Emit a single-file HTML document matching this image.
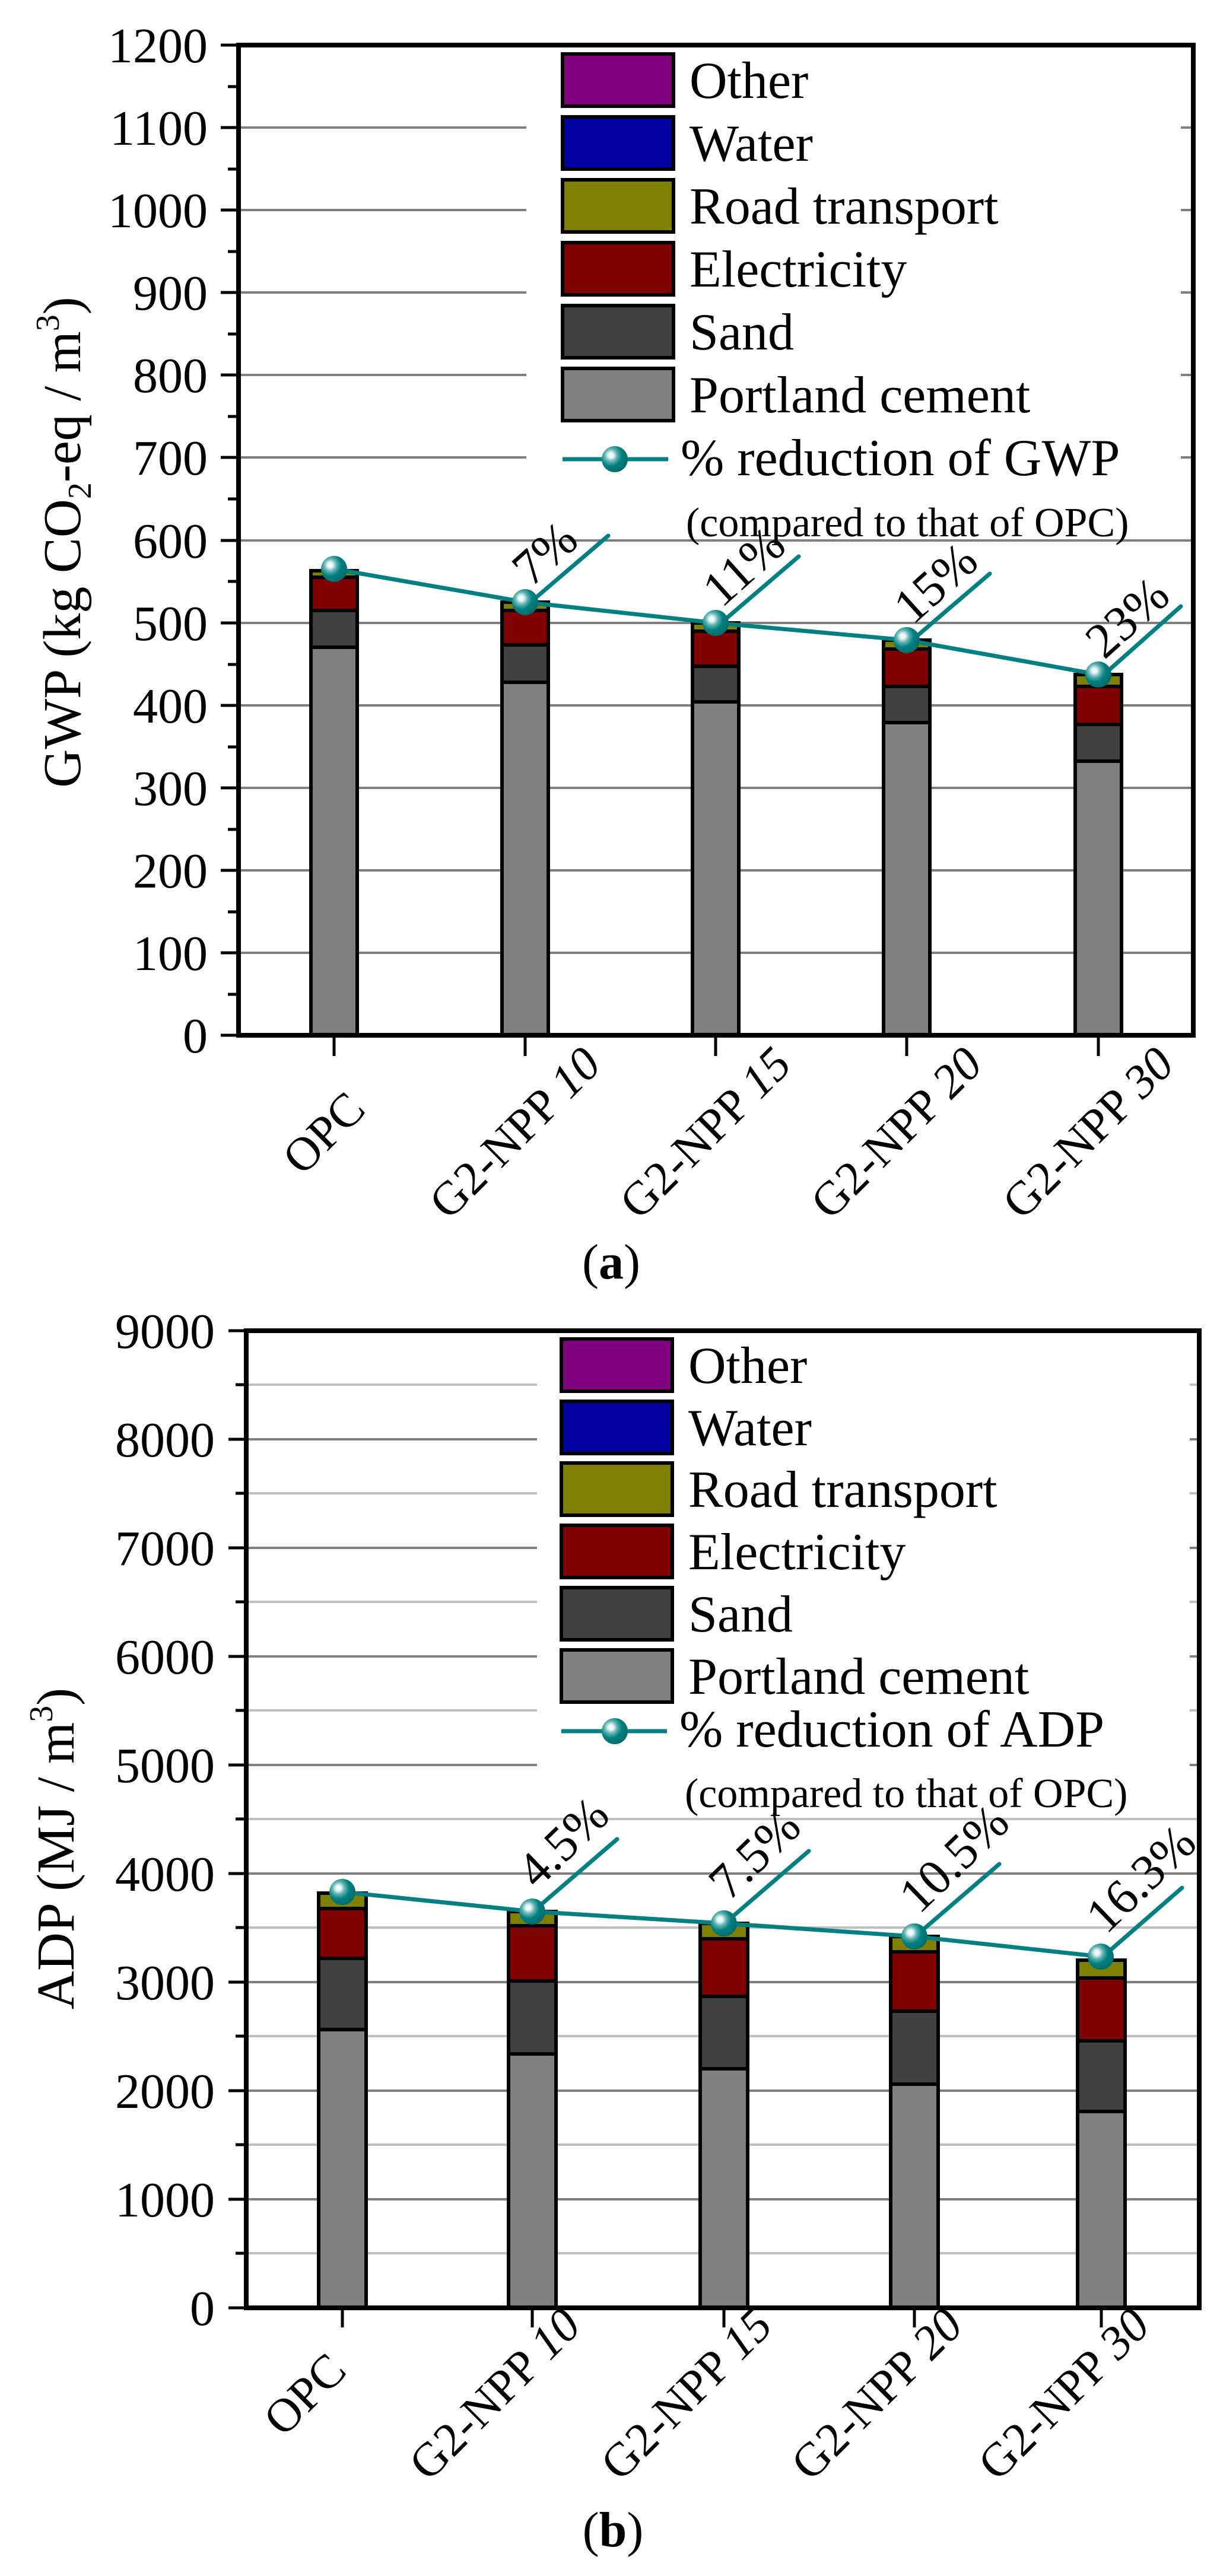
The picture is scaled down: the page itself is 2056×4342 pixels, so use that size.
<!DOCTYPE html>
<html><head><meta charset="utf-8"><style>
html,body{margin:0;padding:0;background:#fff}
svg{display:block}
text{font-family:"Liberation Serif",serif;fill:#000}
</style></head><body>
<svg width="2056" height="4342" viewBox="0 0 2056 4342" xmlns="http://www.w3.org/2000/svg">
<defs>
<radialGradient id="mk" cx="0.35" cy="0.35" r="0.7">
<stop offset="0" stop-color="#ffffff"/><stop offset="0.15" stop-color="#e0f4f4"/><stop offset="0.35" stop-color="#5fb0b0"/><stop offset="0.6" stop-color="#008080"/><stop offset="1" stop-color="#006a6a"/>
</radialGradient>
</defs>

<!-- ================= CHART A ================= -->
<g stroke="#808080" stroke-width="4">
<line x1="402" x2="2011" y1="1606" y2="1606"/><line x1="402" x2="2011" y1="1467" y2="1467"/>
<line x1="402" x2="2011" y1="1328" y2="1328"/><line x1="402" x2="2011" y1="1189" y2="1189"/>
<line x1="402" x2="2011" y1="1050" y2="1050"/><line x1="402" x2="2011" y1="911" y2="911"/>
<line x1="402" x2="2011" y1="771" y2="771"/><line x1="402" x2="2011" y1="632" y2="632"/>
<line x1="402" x2="2011" y1="493" y2="493"/><line x1="402" x2="2011" y1="354" y2="354"/>
<line x1="402" x2="2011" y1="215" y2="215"/>
</g>
<rect x="887" y="80" width="1103" height="823" fill="#fff"/>

<g stroke="#000" stroke-width="6">
<rect x="524" y="1091" width="78" height="654" fill="#808080"/>
<rect x="524" y="1029" width="78" height="62" fill="#404040"/>
<rect x="524" y="973" width="78" height="56" fill="#800000"/>
<rect x="524" y="962" width="78" height="11" fill="#808000"/>

<rect x="846" y="1150" width="78" height="595" fill="#808080"/>
<rect x="846" y="1087" width="78" height="63" fill="#404040"/>
<rect x="846" y="1029" width="78" height="58" fill="#800000"/>
<rect x="846" y="1015" width="78" height="14" fill="#808000"/>

<rect x="1167" y="1183" width="78" height="562" fill="#808080"/>
<rect x="1167" y="1123" width="78" height="60" fill="#404040"/>
<rect x="1167" y="1064" width="78" height="59" fill="#800000"/>
<rect x="1167" y="1050" width="78" height="14" fill="#808000"/>

<rect x="1489" y="1218" width="78" height="527" fill="#808080"/>
<rect x="1489" y="1157" width="78" height="61" fill="#404040"/>
<rect x="1489" y="1094" width="78" height="63" fill="#800000"/>
<rect x="1489" y="1079" width="78" height="15" fill="#808000"/>

<rect x="1812" y="1283" width="78" height="462" fill="#808080"/>
<rect x="1812" y="1221" width="78" height="62" fill="#404040"/>
<rect x="1812" y="1157" width="78" height="64" fill="#800000"/>
<rect x="1812" y="1137" width="78" height="20" fill="#808000"/>
</g>

<g stroke="#008080" stroke-width="7" fill="none" stroke-linecap="round">
<polyline points="563,959 885,1015 1206,1050 1528,1079 1851,1137"/>
<line x1="900" y1="1010" x2="1025" y2="903"/>
<line x1="1221" y1="1045" x2="1346" y2="938"/>
<line x1="1543" y1="1074" x2="1668" y2="967"/>
<line x1="1866" y1="1132" x2="1990" y2="1022"/>
</g>
<g fill="url(#mk)">
<circle cx="563" cy="959" r="22"/><circle cx="885" cy="1015" r="22"/><circle cx="1206" cy="1050" r="22"/><circle cx="1528" cy="1079" r="22"/><circle cx="1851" cy="1137" r="22"/>
</g>
<g font-size="84">
<text transform="translate(895,991) rotate(-42)">7%</text>
<text transform="translate(1216,1026) rotate(-42)">11%</text>
<text transform="translate(1538,1055) rotate(-42)">15%</text>
<text transform="translate(1861,1113) rotate(-42)">23%</text>
</g>

<g stroke="#000" stroke-width="8" fill="none">
<rect x="402" y="76" width="1609" height="1669"/>
</g>
<g stroke="#000" stroke-width="5">
<line x1="372" x2="402" y1="1745" y2="1745"/><line x1="372" x2="402" y1="1606" y2="1606"/><line x1="372" x2="402" y1="1467" y2="1467"/>
<line x1="372" x2="402" y1="1328" y2="1328"/><line x1="372" x2="402" y1="1189" y2="1189"/><line x1="372" x2="402" y1="1050" y2="1050"/>
<line x1="372" x2="402" y1="911" y2="911"/><line x1="372" x2="402" y1="771" y2="771"/><line x1="372" x2="402" y1="632" y2="632"/>
<line x1="372" x2="402" y1="493" y2="493"/><line x1="372" x2="402" y1="354" y2="354"/><line x1="372" x2="402" y1="215" y2="215"/>
<line x1="372" x2="402" y1="76" y2="76"/>
<line x1="384" x2="402" y1="1676" y2="1676"/><line x1="384" x2="402" y1="1537" y2="1537"/><line x1="384" x2="402" y1="1398" y2="1398"/>
<line x1="384" x2="402" y1="1259" y2="1259"/><line x1="384" x2="402" y1="1120" y2="1120"/><line x1="384" x2="402" y1="980" y2="980"/>
<line x1="384" x2="402" y1="841" y2="841"/><line x1="384" x2="402" y1="702" y2="702"/><line x1="384" x2="402" y1="563" y2="563"/>
<line x1="384" x2="402" y1="424" y2="424"/><line x1="384" x2="402" y1="285" y2="285"/><line x1="384" x2="402" y1="146" y2="146"/>
<line x1="563" x2="563" y1="1745" y2="1780"/><line x1="885" x2="885" y1="1745" y2="1780"/><line x1="1206" x2="1206" y1="1745" y2="1780"/>
<line x1="1528" x2="1528" y1="1745" y2="1780"/><line x1="1851" x2="1851" y1="1745" y2="1780"/>
</g>
<g font-size="84" text-anchor="end">
<text x="350" y="1774">0</text><text x="350" y="1635">100</text><text x="350" y="1496">200</text><text x="350" y="1357">300</text>
<text x="350" y="1218">400</text><text x="350" y="1079">500</text><text x="350" y="940">600</text><text x="350" y="800">700</text>
<text x="350" y="661">800</text><text x="350" y="522">900</text><text x="350" y="383">1000</text><text x="350" y="244">1100</text>
<text x="350" y="105">1200</text>
</g>
<text transform="translate(135,914) rotate(-90)" font-size="90" text-anchor="middle">GWP (kg CO<tspan font-size="56" dy="18">2</tspan><tspan dy="-18">-eq / m</tspan><tspan font-size="56" dy="-36">3</tspan><tspan dy="36">)</tspan></text>
<g font-size="80" text-anchor="middle" dominant-baseline="central">
<text transform="translate(546,1910) rotate(-45)">OPC</text>
<text transform="translate(868,1910) rotate(-45)">G2-NPP <tspan font-style="italic">10</tspan></text>
<text transform="translate(1189,1910) rotate(-45)">G2-NPP <tspan font-style="italic">15</tspan></text>
<text transform="translate(1511,1910) rotate(-45)">G2-NPP <tspan font-style="italic">20</tspan></text>
<text transform="translate(1834,1910) rotate(-45)">G2-NPP <tspan font-style="italic">30</tspan></text>
</g>

<g stroke="#000" stroke-width="6">
<rect x="948" y="91" width="187" height="88" fill="#800080"/>
<rect x="948" y="197" width="187" height="88" fill="#0000a0"/>
<rect x="948" y="303" width="187" height="88" fill="#808000"/>
<rect x="948" y="409" width="187" height="88" fill="#800000"/>
<rect x="948" y="515" width="187" height="88" fill="#404040"/>
<rect x="948" y="621" width="187" height="88" fill="#808080"/>
</g>
<line x1="948" x2="1126" y1="774" y2="774" stroke="#008080" stroke-width="7"/>
<circle cx="1036" cy="774" r="22" fill="url(#mk)"/>
<g font-size="88">
<text x="1162" y="165">Other</text>
<text x="1162" y="271">Water</text>
<text x="1162" y="377">Road transport</text>
<text x="1162" y="483">Electricity</text>
<text x="1162" y="589">Sand</text>
<text x="1162" y="695">Portland cement</text>
<text x="1147" y="801">% reduction of GWP</text>
</g>
<text x="1156" y="904" font-size="70">(compared to that of OPC)</text>
<text x="1030" y="2155" font-size="84" text-anchor="middle">(<tspan font-weight="bold">a</tspan>)</text>

<!-- ================= CHART B ================= -->
<g stroke="#c0c0c0" stroke-width="4">
<line x1="415" x2="2021" y1="3798" y2="3798"/><line x1="415" x2="2021" y1="3615" y2="3615"/>
<line x1="415" x2="2021" y1="3432" y2="3432"/><line x1="415" x2="2021" y1="3249" y2="3249"/>
<line x1="415" x2="2021" y1="3066" y2="3066"/><line x1="415" x2="2021" y1="2883" y2="2883"/>
<line x1="415" x2="2021" y1="2700" y2="2700"/><line x1="415" x2="2021" y1="2517" y2="2517"/>
<line x1="415" x2="2021" y1="2334" y2="2334"/>
</g>
<g stroke="#808080" stroke-width="4">
<line x1="415" x2="2021" y1="3707" y2="3707"/><line x1="415" x2="2021" y1="3524" y2="3524"/>
<line x1="415" x2="2021" y1="3341" y2="3341"/><line x1="415" x2="2021" y1="3158" y2="3158"/>
<line x1="415" x2="2021" y1="2975" y2="2975"/><line x1="415" x2="2021" y1="2792" y2="2792"/>
<line x1="415" x2="2021" y1="2609" y2="2609"/><line x1="415" x2="2021" y1="2426" y2="2426"/>
</g>
<rect x="905" y="2247" width="1100" height="806" fill="#fff"/>

<g stroke="#000" stroke-width="6">
<rect x="537" y="3421" width="80" height="469" fill="#808080"/>
<rect x="537" y="3301" width="80" height="120" fill="#404040"/>
<rect x="537" y="3217" width="80" height="84" fill="#800000"/>
<rect x="537" y="3191" width="80" height="26" fill="#808000"/>

<rect x="857" y="3462" width="80" height="428" fill="#808080"/>
<rect x="857" y="3339" width="80" height="123" fill="#404040"/>
<rect x="857" y="3246" width="80" height="93" fill="#800000"/>
<rect x="857" y="3222" width="80" height="24" fill="#808000"/>

<rect x="1180" y="3487" width="80" height="403" fill="#808080"/>
<rect x="1180" y="3365" width="80" height="122" fill="#404040"/>
<rect x="1180" y="3268" width="80" height="97" fill="#800000"/>
<rect x="1180" y="3242" width="80" height="26" fill="#808000"/>

<rect x="1501" y="3513" width="80" height="377" fill="#808080"/>
<rect x="1501" y="3390" width="80" height="123" fill="#404040"/>
<rect x="1501" y="3290" width="80" height="100" fill="#800000"/>
<rect x="1501" y="3264" width="80" height="26" fill="#808000"/>

<rect x="1816" y="3559" width="80" height="331" fill="#808080"/>
<rect x="1816" y="3440" width="80" height="119" fill="#404040"/>
<rect x="1816" y="3334" width="80" height="106" fill="#800000"/>
<rect x="1816" y="3304" width="80" height="30" fill="#808000"/>
</g>

<g stroke="#008080" stroke-width="7" fill="none" stroke-linecap="round">
<polyline points="577,3189 897,3222 1220,3242 1541,3264 1855,3298"/>
<line x1="911" y1="3211" x2="1040" y2="3100"/>
<line x1="1234" y1="3231" x2="1363" y2="3120"/>
<line x1="1555" y1="3253" x2="1684" y2="3142"/>
<line x1="1869" y1="3289" x2="1992" y2="3182"/>
</g>
<g fill="url(#mk)">
<circle cx="577" cy="3189" r="22"/><circle cx="897" cy="3222" r="22"/><circle cx="1220" cy="3242" r="22"/><circle cx="1541" cy="3264" r="22"/><circle cx="1855" cy="3298" r="22"/>
</g>
<g font-size="84">
<text transform="translate(905,3186) rotate(-44)">4.5%</text>
<text transform="translate(1228,3206) rotate(-44)">7.5%</text>
<text transform="translate(1549,3228) rotate(-44)">10.5%</text>
<text transform="translate(1864,3262) rotate(-44)">16.3%</text>
</g>

<g stroke="#000" stroke-width="8" fill="none">
<rect x="415" y="2243" width="1606" height="1647"/>
</g>
<g stroke="#000" stroke-width="5">
<line x1="385" x2="415" y1="3890" y2="3890"/><line x1="385" x2="415" y1="3707" y2="3707"/><line x1="385" x2="415" y1="3524" y2="3524"/>
<line x1="385" x2="415" y1="3341" y2="3341"/><line x1="385" x2="415" y1="3158" y2="3158"/><line x1="385" x2="415" y1="2975" y2="2975"/>
<line x1="385" x2="415" y1="2792" y2="2792"/><line x1="385" x2="415" y1="2609" y2="2609"/><line x1="385" x2="415" y1="2426" y2="2426"/>
<line x1="385" x2="415" y1="2243" y2="2243"/>
<line x1="397" x2="415" y1="3798" y2="3798"/><line x1="397" x2="415" y1="3615" y2="3615"/><line x1="397" x2="415" y1="3432" y2="3432"/>
<line x1="397" x2="415" y1="3249" y2="3249"/><line x1="397" x2="415" y1="3066" y2="3066"/><line x1="397" x2="415" y1="2883" y2="2883"/>
<line x1="397" x2="415" y1="2700" y2="2700"/><line x1="397" x2="415" y1="2517" y2="2517"/><line x1="397" x2="415" y1="2334" y2="2334"/>
<line x1="577" x2="577" y1="3890" y2="3923"/><line x1="897" x2="897" y1="3890" y2="3923"/><line x1="1220" x2="1220" y1="3890" y2="3923"/>
<line x1="1541" x2="1541" y1="3890" y2="3923"/><line x1="1856" x2="1856" y1="3890" y2="3923"/>
</g>
<g font-size="84" text-anchor="end">
<text x="362" y="3919">0</text><text x="362" y="3736">1000</text><text x="362" y="3553">2000</text><text x="362" y="3370">3000</text>
<text x="362" y="3187">4000</text><text x="362" y="3004">5000</text><text x="362" y="2821">6000</text><text x="362" y="2638">7000</text>
<text x="362" y="2455">8000</text><text x="362" y="2272">9000</text>
</g>
<text transform="translate(124,3116) rotate(-90)" font-size="90" text-anchor="middle">ADP (MJ / m<tspan font-size="56" dy="-36">3</tspan><tspan dy="36">)</tspan></text>
<g font-size="80" text-anchor="middle" dominant-baseline="central">
<text transform="translate(514,4036) rotate(-45)">OPC</text>
<text transform="translate(834,4036) rotate(-45)">G2-NPP <tspan font-style="italic">10</tspan></text>
<text transform="translate(1157,4036) rotate(-45)">G2-NPP <tspan font-style="italic">15</tspan></text>
<text transform="translate(1478,4036) rotate(-45)">G2-NPP <tspan font-style="italic">20</tspan></text>
<text transform="translate(1793,4036) rotate(-45)">G2-NPP <tspan font-style="italic">30</tspan></text>
</g>

<g stroke="#000" stroke-width="6">
<rect x="946" y="2257" width="187" height="88" fill="#800080"/>
<rect x="946" y="2362" width="187" height="88" fill="#0000a0"/>
<rect x="946" y="2466" width="187" height="88" fill="#808000"/>
<rect x="946" y="2571" width="187" height="88" fill="#800000"/>
<rect x="946" y="2676" width="187" height="88" fill="#404040"/>
<rect x="946" y="2781" width="187" height="88" fill="#808080"/>
</g>
<line x1="946" x2="1124" y1="2918" y2="2918" stroke="#008080" stroke-width="7"/>
<circle cx="1036" cy="2918" r="22" fill="url(#mk)"/>
<g font-size="88">
<text x="1160" y="2331">Other</text>
<text x="1160" y="2436">Water</text>
<text x="1160" y="2540">Road transport</text>
<text x="1160" y="2645">Electricity</text>
<text x="1160" y="2750">Sand</text>
<text x="1160" y="2855">Portland cement</text>
<text x="1145" y="2944">% reduction of ADP</text>
</g>
<text x="1154" y="3046" font-size="70">(compared to that of OPC)</text>
<text x="1033" y="4292" font-size="84" text-anchor="middle">(<tspan font-weight="bold">b</tspan>)</text>
</svg>
</body></html>
